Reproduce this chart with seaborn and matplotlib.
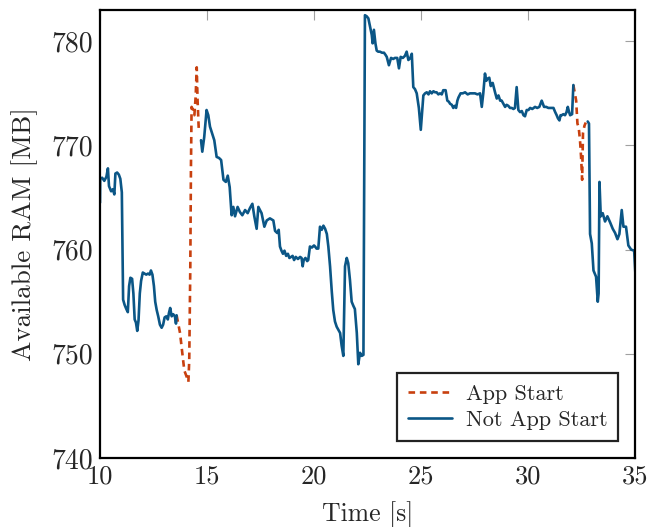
import matplotlib
matplotlib.use("Agg")
import matplotlib.pyplot as plt
import seaborn as sns
import pandas as pd

# ---- data ----
t_blue1 = [10.00, 10.01, 10.10, 10.20, 10.30, 10.37, 10.42, 10.52, 10.60, 10.67, 10.72, 10.80, 10.88, 10.95,
           11.02, 11.08, 11.15, 11.23, 11.30, 11.36, 11.42, 11.50, 11.56, 11.62, 11.68, 11.74, 11.80, 11.86,
           11.92, 12.00, 12.08, 12.16, 12.24, 12.32, 12.38, 12.45, 12.52, 12.58, 12.65, 12.72, 12.80, 12.88,
           12.95, 13.02, 13.10, 13.17, 13.22, 13.28, 13.35, 13.42, 13.50, 13.55, 13.58]
v_blue1 = [764.5, 766.8, 766.9, 766.6, 767.0, 767.8, 766.1, 765.6, 765.8, 765.3, 767.3, 767.4, 767.2, 766.8,
           765.5, 755.2, 754.7, 754.3, 754.0, 756.5, 757.3, 757.2, 755.8, 753.3, 753.0, 752.2, 753.2, 755.8,
           757.0, 757.8, 757.7, 757.6, 757.7, 757.6, 758.0, 757.6, 756.5, 755.0, 754.2, 753.6, 752.8, 752.5,
           752.8, 753.5, 753.6, 753.3, 753.9, 754.4, 753.6, 753.8, 753.6, 752.9, 753.7]

t_red1 = [13.58, 13.74, 13.85, 13.94, 14.05, 14.13, 14.17, 14.22, 14.25, 14.28, 14.35, 14.41, 14.47, 14.52,
          14.56, 14.62]
v_red1 = [753.7, 752.0, 750.0, 748.4, 747.8, 747.3, 749.4, 758.4, 767.9, 773.7, 773.4, 772.9, 774.7, 777.5,
          774.3, 771.3]

t_blue2 = [14.72, 14.78, 14.87, 14.98, 15.06, 15.14, 15.25, 15.34, 15.45, 15.56, 15.66, 15.77, 15.88, 15.97,
           16.06, 16.15, 16.23, 16.31, 16.43, 16.54, 16.65, 16.78, 16.90, 17.01, 17.12, 17.21, 17.32, 17.40,
           17.55, 17.68, 17.79, 17.94, 18.10, 18.18, 18.28, 18.35, 18.41, 18.48, 18.55, 18.62, 18.70, 18.78,
           18.85, 18.93, 19.00, 19.07, 19.15, 19.25, 19.35, 19.42, 19.47, 19.52, 19.60, 19.68, 19.73, 19.81,
           19.90, 20.00, 20.05, 20.12, 20.20, 20.28, 20.36, 20.44, 20.52, 20.60, 20.67, 20.75, 20.83, 20.90,
           20.98, 21.06, 21.14, 21.22, 21.29, 21.37, 21.45, 21.53, 21.60, 21.68, 21.76, 21.84, 21.91, 22.00,
           22.07, 22.15, 22.23, 22.31, 22.38, 22.46, 22.54, 22.62, 22.70, 22.74, 22.80, 22.87, 22.93, 23.00,
           23.08, 23.18, 23.27, 23.34, 23.40, 23.50, 23.60, 23.70, 23.78, 23.89, 23.97, 24.05, 24.15, 24.25,
           24.33, 24.41, 24.50, 24.57, 24.64, 24.72, 24.80, 24.90, 24.99, 25.05, 25.11, 25.19, 25.27, 25.35,
           25.42, 25.50, 25.58, 25.66, 25.73, 25.81, 25.89, 25.97, 26.04, 26.15, 26.23, 26.30, 26.36, 26.44,
           26.51, 26.58, 26.64, 26.70, 26.75, 26.85, 26.95, 27.06, 27.18, 27.29, 27.40, 27.52, 27.64, 27.76,
           27.84, 27.91, 27.99, 28.05, 28.10, 28.19, 28.26, 28.35, 28.46, 28.54, 28.62, 28.70, 28.77, 28.85,
           28.93, 29.00, 29.08, 29.16, 29.24, 29.32, 29.39, 29.47, 29.55, 29.63, 29.71, 29.79, 29.86, 29.94,
           30.02, 30.10, 30.20, 30.33, 30.43, 30.53, 30.64, 30.75, 30.85, 30.95, 31.07, 31.19, 31.27, 31.34,
           31.40, 31.47, 31.52, 31.58, 31.65, 31.73, 31.80, 31.86, 31.92, 31.97, 32.06, 32.12]
v_blue2 = [770.5, 769.4, 770.8, 773.4, 772.9, 771.8, 771.1, 770.5, 768.9, 768.8, 768.6, 766.7, 766.5, 767.1,
           766.0, 763.3, 764.1, 763.2, 764.1, 763.6, 763.3, 763.8, 763.5, 764.0, 764.4, 763.2, 762.0, 764.1,
           763.5, 762.2, 762.8, 763.0, 762.8, 761.8, 761.6, 761.9, 760.3, 759.9, 759.6, 759.9, 759.4, 759.6,
           759.2, 759.3, 759.4, 759.0, 759.3, 759.1, 759.3, 759.2, 758.4, 759.0, 759.2, 758.9, 759.0, 760.3,
           760.2, 760.4, 760.3, 760.1, 760.1, 762.2, 761.9, 762.3, 762.0, 761.5, 760.3, 758.4, 756.0, 754.2,
           753.1, 752.6, 752.3, 752.0, 750.8, 749.8, 758.4, 759.2, 758.7, 757.1, 755.0, 754.6, 754.3, 752.0,
           749.0, 750.1, 749.8, 749.9, 782.5, 782.4, 782.2, 781.4, 780.6, 779.8, 781.1, 779.8, 779.1, 779.0,
           779.0, 778.9, 778.9, 778.7, 778.5, 777.7, 778.4, 778.3, 778.4, 778.4, 777.4, 778.5, 778.4, 778.6,
           779.0, 778.2, 778.4, 778.8, 775.6, 775.4, 775.0, 773.6, 771.5, 773.2, 774.8, 775.0, 775.1, 774.9,
           775.2, 775.0, 775.2, 775.1, 775.1, 774.9, 775.0, 774.9, 775.3, 775.3, 774.3, 774.2, 774.0, 773.9,
           773.6, 773.8, 773.6, 774.3, 774.6, 775.0, 775.0, 775.1, 774.9, 775.0, 775.0, 775.0, 774.9, 775.0,
           773.7, 775.0, 776.9, 776.2, 776.4, 776.5, 775.7, 776.0, 775.1, 774.5, 774.8, 774.3, 774.3, 774.0,
           773.7, 773.9, 773.8, 773.6, 773.6, 773.5, 773.6, 775.6, 773.4, 773.2, 773.3, 772.9, 772.8, 773.4,
           773.4, 773.6, 773.5, 773.7, 773.6, 773.7, 774.3, 773.7, 773.7, 773.6, 773.6, 773.6, 773.2, 772.9,
           772.6, 772.4, 772.9, 772.9, 773.0, 772.9, 773.2, 773.7, 773.2, 772.9, 773.0, 775.8]

t_red2 = [32.12, 32.25, 32.31, 32.37, 32.43, 32.48, 32.53, 32.57, 32.64, 32.70]
v_red2 = [775.8, 774.3, 772.1, 771.7, 770.5, 768.9, 766.7, 771.2, 771.9, 772.2]

t_blue3 = [32.79, 32.85, 32.90, 32.98, 33.06, 33.18, 33.26, 33.30, 33.34, 33.40, 33.49, 33.60, 33.71, 33.84,
           33.96, 34.07, 34.18, 34.27, 34.38, 34.46, 34.58, 34.69, 34.82, 34.96, 35.05]
v_blue3 = [772.3, 772.1, 761.5, 760.6, 758.0, 757.4, 755.0, 755.8, 766.5, 763.2, 763.5, 762.7, 763.2, 762.6,
           762.0, 761.6, 761.0, 761.5, 763.8, 762.2, 762.2, 760.4, 760.0, 759.9, 756.5]

series_names = ["App Start", "Not App Start"]
x_ticks = [10, 15, 20, 25, 30, 35]
y_ticks = [740, 750, 760, 770, 780]

# ---- build long table ----
segments = [
    (t_blue1, v_blue1, "Not App Start", 0),
    (t_red1, v_red1, "App Start", 1),
    (t_blue2, v_blue2, "Not App Start", 2),
    (t_red2, v_red2, "App Start", 3),
    (t_blue3, v_blue3, "Not App Start", 4),
]
frames = []
for tt, vv, kind, seg in segments:
    frames.append(pd.DataFrame({"t": tt, "ram": vv, "kind": kind, "seg": seg}))
df = pd.concat(frames, ignore_index=True)

sns.set_theme(style="white")
plt.rcParams["font.family"] = ["cmr10", "DejaVu Serif"]
plt.rcParams["axes.formatter.use_mathtext"] = True
plt.rcParams["mathtext.fontset"] = "cm"

RED = "#c8400f"
BLUE = "#0b5686"

fig = plt.figure(figsize=(6.49, 5.27), dpi=100)
ax = fig.add_axes([100 / 649, 1 - 458 / 527, 535 / 649, 448 / 527])

sns.lineplot(data=df, x="t", y="ram", hue="kind", style="kind", units="seg",
             estimator=None, sort=False, hue_order=series_names, style_order=series_names,
             palette={"App Start": RED, "Not App Start": BLUE},
             dashes={"App Start": (2.5, 1.8), "Not App Start": ""},
             linewidth=1.9, ax=ax)

ax.set_xlim(10, 35)
ax.set_ylim(740, 783)
ax.set_xticks(x_ticks)
ax.set_yticks(y_ticks)
ax.set_xticklabels([str(v) for v in x_ticks])
ax.set_yticklabels([str(v) for v in y_ticks])
ax.set_xlabel("Time [s]", fontsize=18.5, labelpad=9)
ax.set_ylabel("Available RAM [MB]", fontsize=19.5, labelpad=10)
ax.tick_params(axis="both", which="both", direction="in", length=7, width=0.8,
               color="#a0a0a0", top=True, right=True, pad=5)
ax.tick_params(axis="x", labelsize=19)
ax.tick_params(axis="y", labelsize=20)
for s in ax.spines.values():
    s.set_visible(True)
    s.set_color("black")
    s.set_linewidth(1.6)
    s.set_zorder(5)

handles, labels = ax.get_legend_handles_labels()
leg = ax.legend(handles=handles, labels=labels, loc="lower right", fontsize=16,
                frameon=True, fancybox=False, edgecolor="#222222", framealpha=1,
                borderaxespad=0.75, handlelength=2.0, borderpad=0.5, labelspacing=0.3,
                handletextpad=0.6)
leg.get_frame().set_linewidth(1.6)
for h in leg.get_lines():
    h.set_linewidth(1.9)

fig.savefig("out.png", dpi=100)
